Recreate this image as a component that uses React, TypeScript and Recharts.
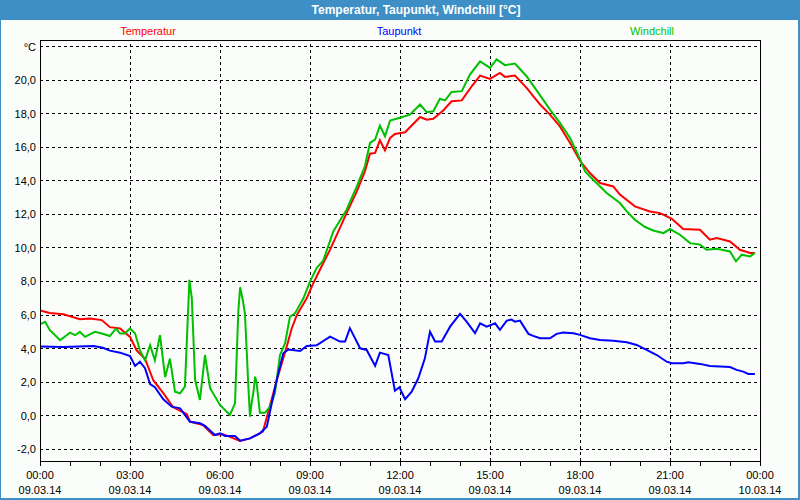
import { LineChart, Line, XAxis, YAxis, CartesianGrid, ReferenceLine } from 'recharts';

// hours since 00:00 on 09.03.14, values in °C
const tempHours = [
  0, 0.33, 0.78, 1.33, 1.67, 2.06, 2.33, 2.67, 3.0, 3.22, 3.5, 3.78, 4.11, 4.44, 4.89, 5.0, 5.43, 5.77, 6.1,
  6.67, 7.0, 7.43, 7.89, 8.22, 8.39, 8.56, 8.89, 9.11, 9.33, 9.67, 10.22, 10.56, 10.83, 11.0, 11.17, 11.33,
  11.5, 11.67, 11.83, 12.17, 12.67, 12.89, 13.11, 13.44, 13.72, 14.06, 14.39, 14.67, 15.0, 15.33, 15.5, 15.83,
  16.22, 16.67, 17.0, 17.33, 17.67, 18.0, 18.33, 18.67, 19.11, 19.33, 19.83, 20.33, 20.67, 21.06, 21.44, 22.0,
  22.33, 22.56, 23.0, 23.33, 23.67, 23.83,
];
const tempValues = [
  6.27, 6.12, 6.05, 5.75, 5.8, 5.7, 5.28, 5.2, 4.7, 3.9, 3.4, 2.1, 1.35, 0.5, 0.1, -0.35, -0.55, -1.15, -1.1,
  -1.5, -1.35, -0.95, 2.1, 4.1, 5.2, 6.0, 7.0, 7.9, 8.7, 9.9, 12.08, 13.37, 14.57, 15.62, 15.67, 16.42,
  15.82, 16.56, 16.8, 16.9, 17.81, 17.65, 17.7, 18.2, 18.75, 18.8, 19.64, 20.28, 20.08, 20.44, 20.2, 20.28,
  19.55, 18.55, 17.95, 17.25, 16.26, 15.2, 14.47, 13.87, 13.67, 13.18, 12.48, 12.18, 12.08, 11.74, 11.13, 11.09,
  10.49, 10.59, 10.39, 9.89, 9.7, 9.7,
];

const dewHours = [
  0, 0.78, 1.78, 2.1, 2.33, 2.67, 3.0, 3.17, 3.33, 3.5, 3.67, 3.83, 4.11, 4.39, 4.67, 5.0, 5.33, 5.5, 5.83,
  6.0, 6.17, 6.5, 6.67, 7.0, 7.33, 7.56, 7.89, 8.11, 8.28, 8.67, 8.89, 9.22, 9.67, 10.0, 10.17, 10.33, 10.67,
  10.89, 11.17, 11.33, 11.61, 11.83, 11.98, 12.17, 12.39, 12.61, 12.83, 13.0, 13.17, 13.39, 13.67, 14.0, 14.22,
  14.5, 14.67, 14.89, 15.17, 15.33, 15.56, 15.72, 15.83, 16.0, 16.28, 16.44, 16.67, 17.0, 17.22, 17.44, 17.78,
  18.0, 18.33, 18.67, 19.11, 19.56, 19.89, 20.22, 20.56, 20.89, 21.06, 21.44, 21.61, 22.0, 22.33, 22.67, 23.0,
  23.22, 23.44, 23.61, 23.83,
];
const dewValues = [
  4.12, 4.1, 4.15, 4.05, 3.88, 3.76, 3.56, 2.97, 3.22, 2.83, 1.89, 1.7, 0.98, 0.54, 0.44, -0.36, -0.45, -0.61, -1.15,
  -1.05, -1.21, -1.21, -1.49, -1.35, -1.05, -0.66, 2.13, 3.72, 3.95, 3.86, 4.16, 4.2, 4.72, 4.42, 4.42, 5.22, 4.02,
  3.92, 2.97, 3.76, 3.62, 1.49, 1.7, 0.98, 1.43, 2.23, 3.42, 5.01, 4.42, 4.42, 5.31, 6.07, 5.61,
  4.92, 5.51, 5.31, 5.51, 5.12, 5.67, 5.73, 5.61, 5.67, 4.88, 4.76, 4.62, 4.62, 4.88, 4.96, 4.92,
  4.82, 4.62, 4.52, 4.47, 4.38, 4.22, 3.92, 3.62, 3.22, 3.13, 3.13, 3.18, 3.09, 2.97, 2.93, 2.9,
  2.73, 2.63, 2.49, 2.49,
];

const chillHours = [
  0, 0.17, 0.33, 0.67, 1.0, 1.17, 1.33, 1.5, 1.83, 2.06, 2.33, 2.53, 2.67, 2.83, 3.0, 3.17, 3.33, 3.5, 3.67,
  3.83, 4.0, 4.17, 4.33, 4.5, 4.67, 4.83, 4.98, 5.06, 5.17, 5.33, 5.5, 5.67, 6.0, 6.33, 6.5, 6.61, 6.67, 6.76,
  6.83, 6.89, 6.94, 7.0, 7.06, 7.11, 7.17, 7.22, 7.33, 7.5, 7.67, 7.83, 8.0, 8.17, 8.33, 8.5, 8.78, 9.0, 9.22,
  9.44, 9.78, 10.22, 10.56, 10.83, 11.0, 11.17, 11.33, 11.5, 11.67, 12.0, 12.33, 12.67, 12.89, 13.11, 13.33,
  13.5, 13.72, 14.06, 14.33, 14.67, 15.0, 15.22, 15.5, 15.83, 16.22, 16.67, 17.0, 17.33, 17.67, 18.0, 18.17,
  18.44, 18.89, 19.33, 19.56, 19.83, 20.17, 20.44, 20.78, 21.0, 21.33, 21.67, 22.0, 22.22, 22.56, 23.0, 23.2,
  23.39, 23.67, 23.83,
];
const chillValues = [
  5.45, 5.6, 5.1, 4.5, 4.95, 4.8, 5.0, 4.7, 5.0, 4.9, 4.75, 5.2, 4.9, 4.9, 5.2, 4.9, 3.9, 3.3, 4.2,
  3.3, 4.8, 2.3, 3.4, 1.43, 1.34, 1.73, 8.1, 7.0, 2.13, 0.94, 3.62, 1.64, 0.64, 0.04, 0.74, 6.2, 7.66, 6.9,
  6.1, 3.9, 1.93, -0.06, 0.84, 1.34, 2.33, 1.95, 0.18, 0.18, 0.54, 1.34, 3.62, 4.32, 5.9, 6.1, 7.0, 8.0, 8.8,
  9.25, 11.0, 12.28, 13.67, 14.87, 16.26, 16.46, 17.3, 16.66, 17.6, 17.76, 17.95, 18.55, 18.1, 18.15, 18.9,
  18.8, 19.3, 19.35, 20.34, 21.13, 20.74, 21.24, 20.9, 21.0, 20.24, 19.1, 18.25, 17.46, 16.56, 15.3, 14.57,
  14.07, 13.28, 12.68, 12.18, 11.68, 11.25, 11.04, 10.89, 11.13, 10.79, 10.29, 10.2, 9.89, 9.95, 9.79, 9.2,
  9.6, 9.5, 9.7,
];

const xTickHours = [0, 3, 6, 9, 12, 15, 18, 21, 24];
const xTickTimes = ['00:00', '03:00', '06:00', '09:00', '12:00', '15:00', '18:00', '21:00', '00:00'];
const xTickDates = ['09.03.14', '09.03.14', '09.03.14', '09.03.14', '09.03.14', '09.03.14', '09.03.14', '09.03.14', '10.03.14'];
const yTicks = [-2, 0, 2, 4, 6, 8, 10, 12, 14, 16, 18, 20, 22];

const toRows = (hours: number[], values: number[]) => hours.map((t, i) => ({ t, v: values[i] }));
const tempData = toRows(tempHours, tempValues);
const dewData = toRows(dewHours, dewValues);
const chillData = toRows(chillHours, chillValues);

const hourTicks = Array.from({ length: 25 }, (_, i) => i);
const FONT = '"Liberation Sans", Arial, sans-serif';

const XTick = (props: any) => {
  const { x, y, payload } = props;
  const idx = xTickHours.indexOf(payload.value);
  return (
    <g>
      <line x1={x} x2={x} y1={y} y2={y + 5} stroke="#000" shapeRendering="crispEdges" />
      {idx >= 0 && (
        <>
          <text x={x} y={y + 18} textAnchor="middle" fontSize={11} fontFamily={FONT} fill="#000">
            {xTickTimes[idx]}
          </text>
          <text x={x} y={y + 33} textAnchor="middle" fontSize={11} fontFamily={FONT} fill="#000">
            {xTickDates[idx]}
          </text>
        </>
      )}
    </g>
  );
};

const yLabel = (v: number) => (v === 22 ? '°C' : v.toFixed(1).replace('.', ','));

const legend = [
  { name: 'Temperatur', color: '#FF0000', x: 148 },
  { name: 'Taupunkt', color: '#0000FF', x: 399 },
  { name: 'Windchill', color: '#00C000', x: 652 },
];

export default function App() {
  return (
    <div
      style={{
        position: 'absolute',
        left: 0,
        top: 0,
        width: 800,
        height: 500,
        background: '#3D8FC6',
        fontFamily: FONT,
        overflow: 'hidden',
      }}
    >
      <div
        style={{
          position: 'absolute',
          left: 32,
          top: 0,
          width: 768,
          height: 20,
          lineHeight: '20px',
          textAlign: 'center',
          color: '#fff',
          fontWeight: 'bold',
          fontSize: 12,
        }}
      >
        Temperatur, Taupunkt, Windchill [°C]
      </div>
      <div style={{ position: 'absolute', left: 1, top: 20, width: 797, height: 478, background: '#FAFDFA' }}>
        {legend.map((l) => (
          <div
            key={l.name}
            style={{
              position: 'absolute',
              left: l.x - 1,
              top: 5,
              transform: 'translateX(-50%)',
              fontSize: 11,
              lineHeight: '13px',
              color: l.color,
              whiteSpace: 'nowrap',
            }}
          >
            {l.name}
          </div>
        ))}
        <LineChart width={797} height={478} margin={{ top: 20, right: 0, bottom: 0, left: 0 }}>
          <CartesianGrid
            vertical={false}
            stroke="#000"
            strokeDasharray="3 3"
            shapeRendering="crispEdges"
          />
          <XAxis
            type="number"
            dataKey="t"
            domain={[0, 24]}
            ticks={hourTicks}
            interval={0}
            height={37}
            tickSize={0}
            tickMargin={0}
            tickLine={false}
            axisLine={{ stroke: '#000', shapeRendering: 'crispEdges' }}
            tick={<XTick />}
            allowDataOverflow
          />
          <YAxis
            type="number"
            domain={[-2.7, 22.4]}
            ticks={yTicks}
            interval={0}
            width={39}
            tickSize={0}
            tickMargin={4}
            tickLine={false}
            axisLine={{ stroke: '#000', shapeRendering: 'crispEdges' }}
            tickFormatter={yLabel}
            tick={{ fill: '#000', fontSize: 11, fontFamily: FONT }}
            allowDataOverflow
          />
          <YAxis
            yAxisId="right"
            orientation="right"
            type="number"
            domain={[-2.7, 22.4]}
            width={38}
            tick={false}
            tickLine={false}
            axisLine={{ stroke: '#000', shapeRendering: 'crispEdges' }}
          />
          {[3, 6, 9, 12, 15, 18, 21].map((h) => (
            <ReferenceLine key={h} x={h} stroke="#000" strokeDasharray="3 3" shapeRendering="crispEdges" />
          ))}
          <ReferenceLine y={22.4} stroke="#000" shapeRendering="crispEdges" />
          <Line
            data={tempData}
            dataKey="v"
            name="Temperatur"
            type="linear"
            stroke="#FF0000"
            strokeWidth={2}
            dot={false}
            isAnimationActive={false}
          />
          <Line
            data={chillData}
            dataKey="v"
            name="Windchill"
            type="linear"
            stroke="#00C000"
            strokeWidth={2}
            dot={false}
            isAnimationActive={false}
          />
          <Line
            data={dewData}
            dataKey="v"
            name="Taupunkt"
            type="linear"
            stroke="#0000FF"
            strokeWidth={2}
            dot={false}
            isAnimationActive={false}
          />
        </LineChart>
      </div>
    </div>
  );
}
